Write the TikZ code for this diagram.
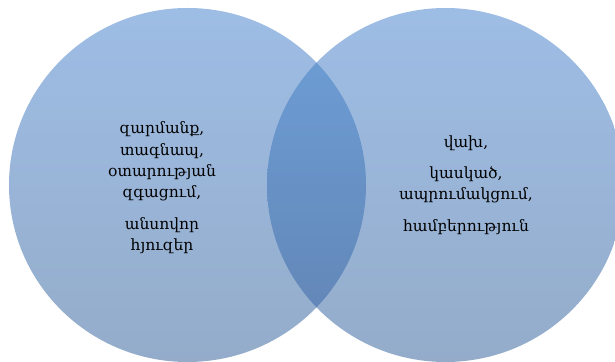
\documentclass[tikz,border=0pt]{standalone}
\usepackage{fontspec}
\newfontfamily\armfont{DejaVu Serif}
\definecolor{lighttop}{RGB}{158,189,229}
\definecolor{lightbot}{RGB}{148,172,202}
\definecolor{lenstop}{RGB}{110,160,217}
\definecolor{lensbot}{RGB}{97,131,178}
\tikzset{
  venntext/.style={align=center, font=\armfont\fontsize{15.5}{21.3}\selectfont, text=black, inner sep=0pt},
  vennset/.style={top color=lighttop, bottom color=lightbot, draw=none}
}
\begin{document}
\begin{tikzpicture}[x=1pt,y=1pt]
\useasboundingbox (0,0) rectangle (615,361);
\begin{scope}
\clip (0,0) rectangle (615,361);
\shade[vennset] (187.5,176) ellipse [x radius=178.5, y radius=177];
\shade[vennset] (445.5,176) ellipse [x radius=178.5, y radius=177];
\begin{scope}
\clip (187.5,176) ellipse [x radius=178.5, y radius=177];
\shade[top color=lenstop, bottom color=lensbot] (445.5,176) ellipse [x radius=178.5, y radius=177];
\end{scope}
\end{scope}
\node[venntext] (l1) at (162,199.5) {զարմանք,\\տագնապ,\\օտարության\\զգացում,};
\node[venntext] (l2) at (162,125.5) {անսովոր\\հյուզեր};
\node[venntext] (r1) at (466,218) {վախ,};
\node[venntext] (r2) at (466,176.5) {կասկած,\\ապրումակցում,};
\node[venntext] (r3) at (466,134) {համբերություն};
\end{tikzpicture}
\end{document}
